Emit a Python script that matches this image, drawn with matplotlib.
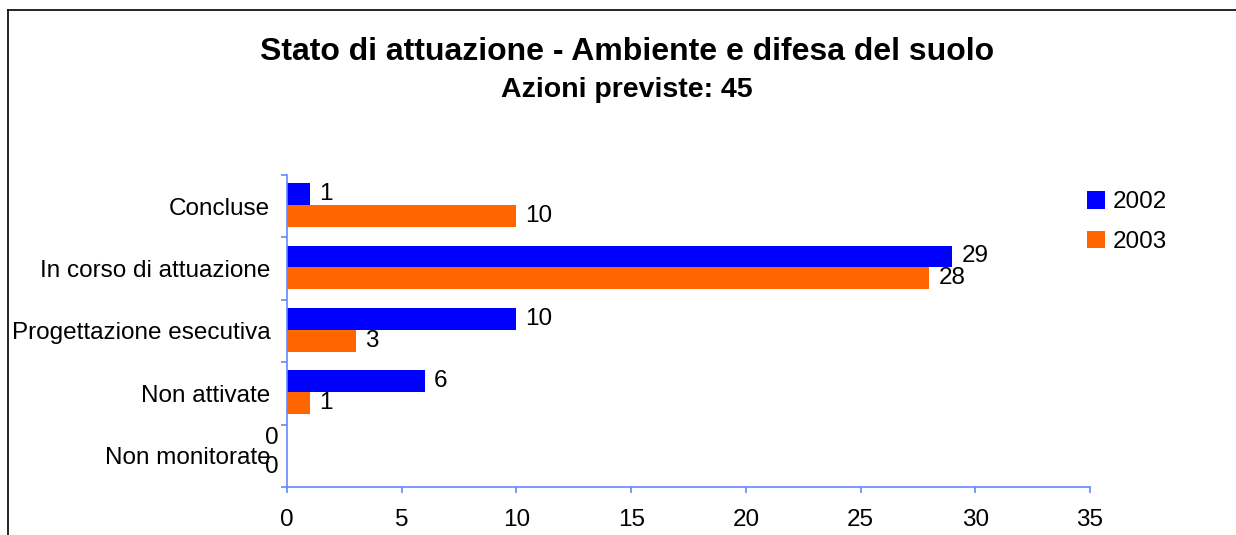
import matplotlib.pyplot as plt
from matplotlib.lines import Line2D
import numpy as np

plt.rcParams['font.family'] = ['Liberation Sans', 'DejaVu Sans']

categories = ['Concluse', 'In corso di attuazione', 'Progettazione esecutiva',
              'Non attivate', 'Non monitorate']
val_2002 = [1, 29, 10, 6, 0]
val_2003 = [10, 28, 3, 1, 0]
series = ['2002', '2003']
colors = ['#0000FF', '#FF6600']
spine_col = '#6688FF'

fig = plt.figure(figsize=(12.36, 5.35), dpi=100)
ax = fig.add_axes([287 / 1236, 1 - 487 / 535, 803 / 1236, 312 / 535])

y = np.arange(len(categories))
h = 0.35
offs = [-0.02 - h / 2, -0.02 + h / 2]
for vals, off, col, lab in zip([val_2002, val_2003], offs, colors, series):
    bars = ax.barh(y + off, vals, height=h, color=col, label=lab)
    for b, v in zip(bars, vals):
        cy = b.get_y() + b.get_height() / 2
        if v == 0:
            ax.annotate('0', (0, cy), xytext=(-6, 4 if off < 0 else -1),
                        textcoords='offset points', ha='right', va='center', fontsize=17.5)
        else:
            ax.annotate(str(v), (v, cy), xytext=(6.5, 0),
                        textcoords='offset points', ha='left', va='center', fontsize=17.5)

ax.set_xlim(0, 35)
ax.set_xticks(range(0, 36, 5))
ax.set_ylim(len(categories) - 0.5, -0.5)
ax.set_yticks(np.arange(-0.5, len(categories), 1))
ax.set_yticklabels([])
ax.set_yticks(y, minor=True)
ax.set_yticklabels(categories, minor=True)

for s in ['top', 'right']:
    ax.spines[s].set_visible(False)
for s in ['left', 'bottom']:
    ax.spines[s].set_color(spine_col)
    ax.spines[s].set_linewidth(1.2)

ax.tick_params(axis='both', which='major', direction='out', length=4.5,
               color=spine_col, width=1.2, labelsize=17.5)
ax.tick_params(axis='x', pad=11.5)
ax.tick_params(axis='y', which='minor', length=0, labelsize=17.5, pad=12)

fig.text(0.507, 1 - 60 / 535, 'Stato di attuazione - Ambiente e difesa del suolo',
         ha='center', va='baseline', fontsize=23, fontweight='bold')
fig.text(0.507, 1 - 97 / 535, 'Azioni previste: 45',
         ha='center', va='baseline', fontsize=20.5, fontweight='bold')

fig.legend(loc='upper left', bbox_to_anchor=(1087 / 1236, 1 - 191 / 535),
           frameon=False, fontsize=17.5, handlelength=0.74, handleheight=0.74,
           handletextpad=0.3, labelspacing=0.72, borderpad=0, borderaxespad=0)

# frame around the chart area
fig.add_artist(Line2D([8 / 1236, 8 / 1236], [0, 1 - 10 / 535], color='black', lw=1.2))
fig.add_artist(Line2D([8 / 1236, 1], [1 - 10 / 535, 1 - 10 / 535], color='black', lw=1.2))

fig.savefig('out.png', dpi=100)
